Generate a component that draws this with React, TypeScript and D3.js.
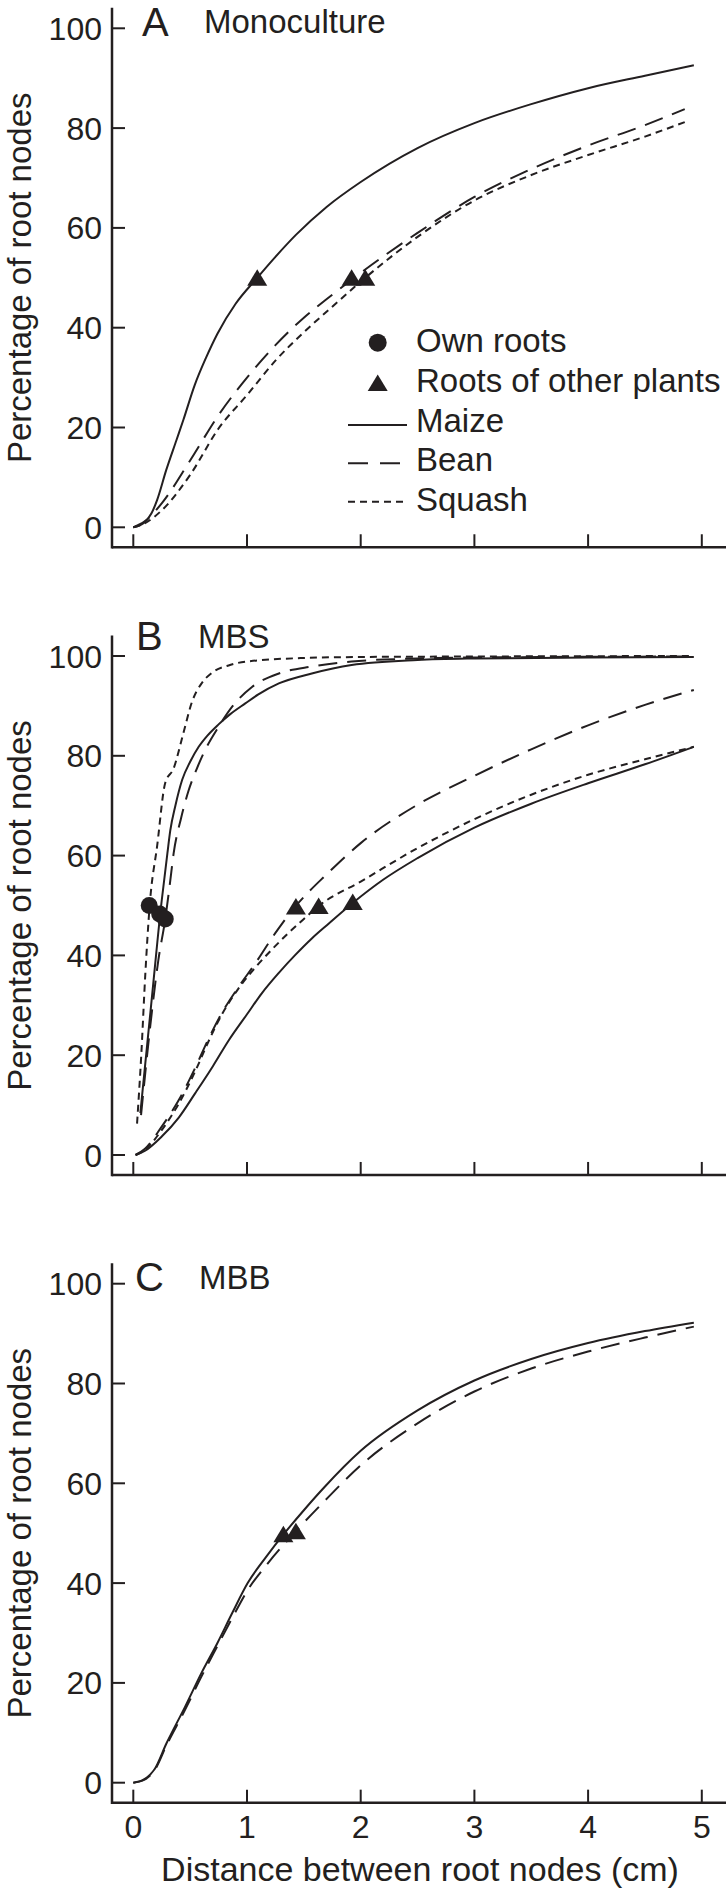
import React from "react";
import * as d3 from "d3";

// ---------- data ----------
const X_TICKS = [0, 1, 2, 3, 4, 5];
const Y_TICKS = [0, 20, 40, 60, 80, 100];

type Pt = [number, number];

// Panel A: Monoculture (roots of other plants)
const monoMaize: Pt[] = [[0,0],[0.09,0.8],[0.16,2.8],[0.21,5.5],[0.29,11.5],[0.38,17.5],[0.44,21.5],[0.54,28.5],[0.64,34],[0.74,38.8],[0.9,44.8],[1.09,50],[1.25,54.2],[1.43,58.6],[1.7,64.2],[2.0,69.2],[2.5,76],[3.0,81],[3.5,84.8],[4.0,88],[4.5,90.5],[4.93,92.6]];
const monoBean: Pt[] = [[0,0],[0.1,1.2],[0.25,4.8],[0.5,13.4],[0.75,22.5],[1.0,30],[1.25,36.5],[1.5,42],[1.75,46.6],[2.0,51],[2.5,59],[3.0,66.2],[3.5,71.8],[4.0,76.5],[4.5,80.6],[4.85,83.8]];
const monoSquash: Pt[] = [[0,0],[0.1,0.8],[0.25,3.4],[0.5,10.5],[0.75,19.8],[1.0,26.5],[1.25,33.4],[1.5,39.1],[1.75,44.2],[2.04,50],[2.5,58.2],[3.0,65.5],[3.5,70.6],[4.0,74.6],[4.5,78.3],[4.85,81.2]];
const monoTriangles: Pt[] = [[1.09,50],[1.92,50],[2.04,50]];

// Panel B: MBS
const mbsMaizeOwn: Pt[] = [[0.062,8.4],[0.1,17.1],[0.15,28.5],[0.2,40],[0.235,48],[0.25,51],[0.3,60.5],[0.325,65],[0.37,70],[0.43,75.2],[0.5,78.8],[0.575,81.8],[0.65,84],[0.75,86.3],[0.85,88.3],[0.985,90.5],[1.1,92.3],[1.28,94.5],[1.57,96.5],[1.92,98.2],[2.5,99.2],[3.0,99.5],[4.0,99.7],[4.93,99.8]];
const mbsBeanOwn: Pt[] = [[0.068,8],[0.15,26],[0.22,39],[0.281,47.3],[0.32,54],[0.355,60.5],[0.42,67.5],[0.487,73.1],[0.56,77.5],[0.633,81.2],[0.75,85.8],[0.868,89.8],[1.044,93.8],[1.28,96.5],[1.57,97.9],[1.92,98.9],[2.5,99.5],[3.0,99.7],[4.93,99.9]];
const mbsSquashOwn: Pt[] = [[0.033,6.3],[0.07,20],[0.106,36.4],[0.144,50],[0.21,62],[0.28,74.5],[0.355,77.5],[0.44,84.5],[0.516,90.8],[0.6,94.5],[0.69,96.6],[0.85,98.2],[1.0,98.9],[1.5,99.6],[2.0,99.8],[3.0,99.9],[4.93,100]];
const mbsMaizeOther: Pt[] = [[0.02,0],[0.1,0.8],[0.25,3.7],[0.4,7.5],[0.545,12.4],[0.7,17.8],[0.84,23],[1.0,28.2],[1.13,32.4],[1.28,36.5],[1.425,40.1],[1.57,43.4],[1.72,46.4],[1.93,50.5],[2.2,55.2],[2.5,59.5],[3.0,65.6],[3.5,70.4],[4.0,74.5],[4.5,78.3],[4.93,81.8]];
const mbsBeanOther: Pt[] = [[0.02,0],[0.1,1.2],[0.25,5.7],[0.4,11],[0.545,17.5],[0.66,23.2],[0.78,28.5],[0.92,33.5],[1.07,38.3],[1.25,44.5],[1.425,49.8],[1.55,52.9],[1.68,55.8],[2.0,62.5],[2.5,70.2],[3.0,76],[3.5,81.3],[4.0,86.1],[4.5,90.2],[4.93,93.2]];
const mbsSquashOther: Pt[] = [[0.02,0],[0.1,1],[0.25,5],[0.4,10.3],[0.545,16.8],[0.66,22.7],[0.78,28.2],[0.92,33.2],[1.07,37.5],[1.22,41.2],[1.37,44.6],[1.5,47.3],[1.63,49.9],[2.0,54.8],[2.5,61.5],[3.0,67.3],[3.5,72.2],[4.0,76.2],[4.5,79.3],[4.93,81.8]];
const mbsCircles: Pt[] = [[0.14,50],[0.232,48.3],[0.281,47.3]];
const mbsTriangles: Pt[] = [[1.43,49.8],[1.63,49.9],[1.93,50.7]];

// Panel C: MBB
const mbbMaize: Pt[] = [[0,0],[0.09,0.6],[0.19,2.8],[0.29,7.8],[0.455,15.2],[0.6,22],[0.74,28],[0.87,34],[1.006,40],[1.17,45.3],[1.33,50],[1.5,54.6],[1.68,59.2],[2.0,66.5],[2.5,74.6],[3.0,80.6],[3.5,84.9],[4.0,88.1],[4.5,90.5],[4.93,92.2]];
const mbbBean: Pt[] = [[0,0],[0.09,0.5],[0.19,2.6],[0.29,7.4],[0.455,14.6],[0.6,21.3],[0.74,27.4],[0.87,33],[1.006,38.6],[1.17,43.6],[1.43,50.4],[1.68,56.4],[2.0,63.6],[2.5,72],[3.0,78.4],[3.5,83],[4.0,86.4],[4.5,89.2],[4.93,91.4]];
const mbbTriangles: Pt[] = [[1.32,49.8],[1.43,50.4]];

const LEGEND_LABELS = ["Own roots", "Roots of other plants", "Maize", "Bean", "Squash"];

// ---------- styling ----------
const INK = "#231f20";
const FONT = "'Liberation Sans', Arial, Helvetica, sans-serif";
const DASH: Record<string, string | undefined> = {
  maize: undefined,
  bean: "19,10",
  squash: "7,5",
};

type Series = { kind: "maize" | "bean" | "squash"; pts: Pt[] };
type Panel = {
  letter: string;
  name: string;
  top: number;
  letterX: number;
  letterY: number;
  nameX: number;
  nameY: number;
  series: Series[];
  circles: Pt[];
  triangles: Pt[];
  showX: boolean;
  legend: boolean;
};

const panels: Panel[] = [
  {
    letter: "A", name: "Monoculture", top: 28.3, letterX: 142, letterY: 36, nameX: 204, nameY: 33,
    series: [
      { kind: "maize", pts: monoMaize },
      { kind: "bean", pts: monoBean },
      { kind: "squash", pts: monoSquash },
    ],
    circles: [], triangles: monoTriangles, showX: false, legend: true,
  },
  {
    letter: "B", name: "MBS", top: 656, letterX: 136, letterY: 650, nameX: 198, nameY: 648,
    series: [
      { kind: "maize", pts: mbsMaizeOwn },
      { kind: "bean", pts: mbsBeanOwn },
      { kind: "squash", pts: mbsSquashOwn },
      { kind: "maize", pts: mbsMaizeOther },
      { kind: "bean", pts: mbsBeanOther },
      { kind: "squash", pts: mbsSquashOther },
    ],
    circles: mbsCircles, triangles: mbsTriangles, showX: false, legend: false,
  },
  {
    letter: "C", name: "MBB", top: 1283.7, letterX: 135, letterY: 1291, nameX: 199, nameY: 1289,
    series: [
      { kind: "maize", pts: mbbMaize },
      { kind: "bean", pts: mbbBean },
    ],
    circles: [], triangles: mbbTriangles, showX: true, legend: false,
  },
];

const x = d3.scaleLinear().domain([0, 5]).range([133.3, 701.8]);
const AXIS_X = 112;

function tri(cx: number, cy: number, w = 20, h = 16) {
  return `M${cx},${cy - h / 2 - 0.5}L${cx + w / 2},${cy + h / 2}L${cx - w / 2},${cy + h / 2}Z`;
}

function PanelView({ p }: { p: Panel }) {
  const y = d3.scaleLinear().domain([0, 100]).range([p.top + 499, p.top]);
  const line = d3
    .line<Pt>()
    .x((d) => x(d[0]))
    .y((d) => y(d[1]))
    .curve(d3.curveMonotoneX);
  const axisY = y(-4);
  const axisTop = y(104.1);
  const midY = (y(0) + y(100)) / 2;
  return (
    <g>
      {/* axes */}
      <line x1={AXIS_X} x2={726} y1={axisY} y2={axisY} stroke={INK} strokeWidth={2.5} />
      <line x1={AXIS_X} x2={AXIS_X} y1={axisTop} y2={axisY + 1.25} stroke={INK} strokeWidth={2.5} />
      {Y_TICKS.map((t) => (
        <g key={"y" + t}>
          <line x1={AXIS_X} x2={AXIS_X + 13} y1={y(t)} y2={y(t)} stroke={INK} strokeWidth={2} />
          <text x={102} y={y(t)} dy="0.36em" textAnchor="end" fontSize={32} fontFamily={FONT} fill={INK}>
            {t}
          </text>
        </g>
      ))}
      {X_TICKS.map((t) => (
        <g key={"x" + t}>
          <line x1={x(t)} x2={x(t)} y1={axisY - 13} y2={axisY} stroke={INK} strokeWidth={2} />
          {p.showX && (
            <text x={x(t)} y={axisY + 35} textAnchor="middle" fontSize={32} fontFamily={FONT} fill={INK}>
              {t}
            </text>
          )}
        </g>
      ))}
      <text
        transform={`translate(31,${midY}) rotate(-90)`}
        textAnchor="middle"
        fontSize={33}
        fontFamily={FONT}
        fill={INK}
      >
        Percentage of root nodes
      </text>
      {p.showX && (
        <text x={420} y={axisY + 78} textAnchor="middle" fontSize={34} fontFamily={FONT} fill={INK}>
          Distance between root nodes (cm)
        </text>
      )}
      {/* labels */}
      <text x={p.letterX} y={p.letterY} fontSize={40} fontFamily={FONT} fill={INK}>
        {p.letter}
      </text>
      <text x={p.nameX} y={p.nameY} fontSize={33} fontFamily={FONT} fill={INK}>
        {p.name}
      </text>
      {/* curves */}
      {p.series.map((s, i) => (
        <path
          key={i}
          d={line(s.pts) || ""}
          fill="none"
          stroke={INK}
          strokeWidth={2}
          strokeDasharray={DASH[s.kind]}
        />
      ))}
      {p.circles.map((c, i) => (
        <circle key={"c" + i} cx={x(c[0])} cy={y(c[1])} r={8.5} fill={INK} />
      ))}
      {p.triangles.map((c, i) => (
        <path key={"t" + i} d={tri(x(c[0]), y(c[1]))} fill={INK} />
      ))}
      {p.legend && (
        <g fontFamily={FONT} fontSize={33} fill={INK}>
          <circle cx={377.7} cy={342.7} r={9} fill={INK} />
          <path d={tri(377.7, 383)} fill={INK} />
          <line x1={348} x2={407} y1={425} y2={425} stroke={INK} strokeWidth={2} />
          <line x1={348} x2={407} y1={463.3} y2={463.3} stroke={INK} strokeWidth={2} strokeDasharray="20,12" />
          <line x1={348} x2={407} y1={501.7} y2={501.7} stroke={INK} strokeWidth={2} strokeDasharray="7,5" />
          {LEGEND_LABELS.map((l, i) => (
            <text key={l} x={416} y={352 + i * 39.8}>
              {l}
            </text>
          ))}
        </g>
      )}
    </g>
  );
}

export default function App() {
  return (
    <svg
      width={726}
      height={1888}
      viewBox="0 0 726 1888"
      style={{ position: "absolute", left: 0, top: 0, display: "block", background: "#fff" }}
    >
      <rect x={0} y={0} width={726} height={1888} fill="#fff" />
      {panels.map((p) => (
        <PanelView key={p.letter} p={p} />
      ))}
    </svg>
  );
}
